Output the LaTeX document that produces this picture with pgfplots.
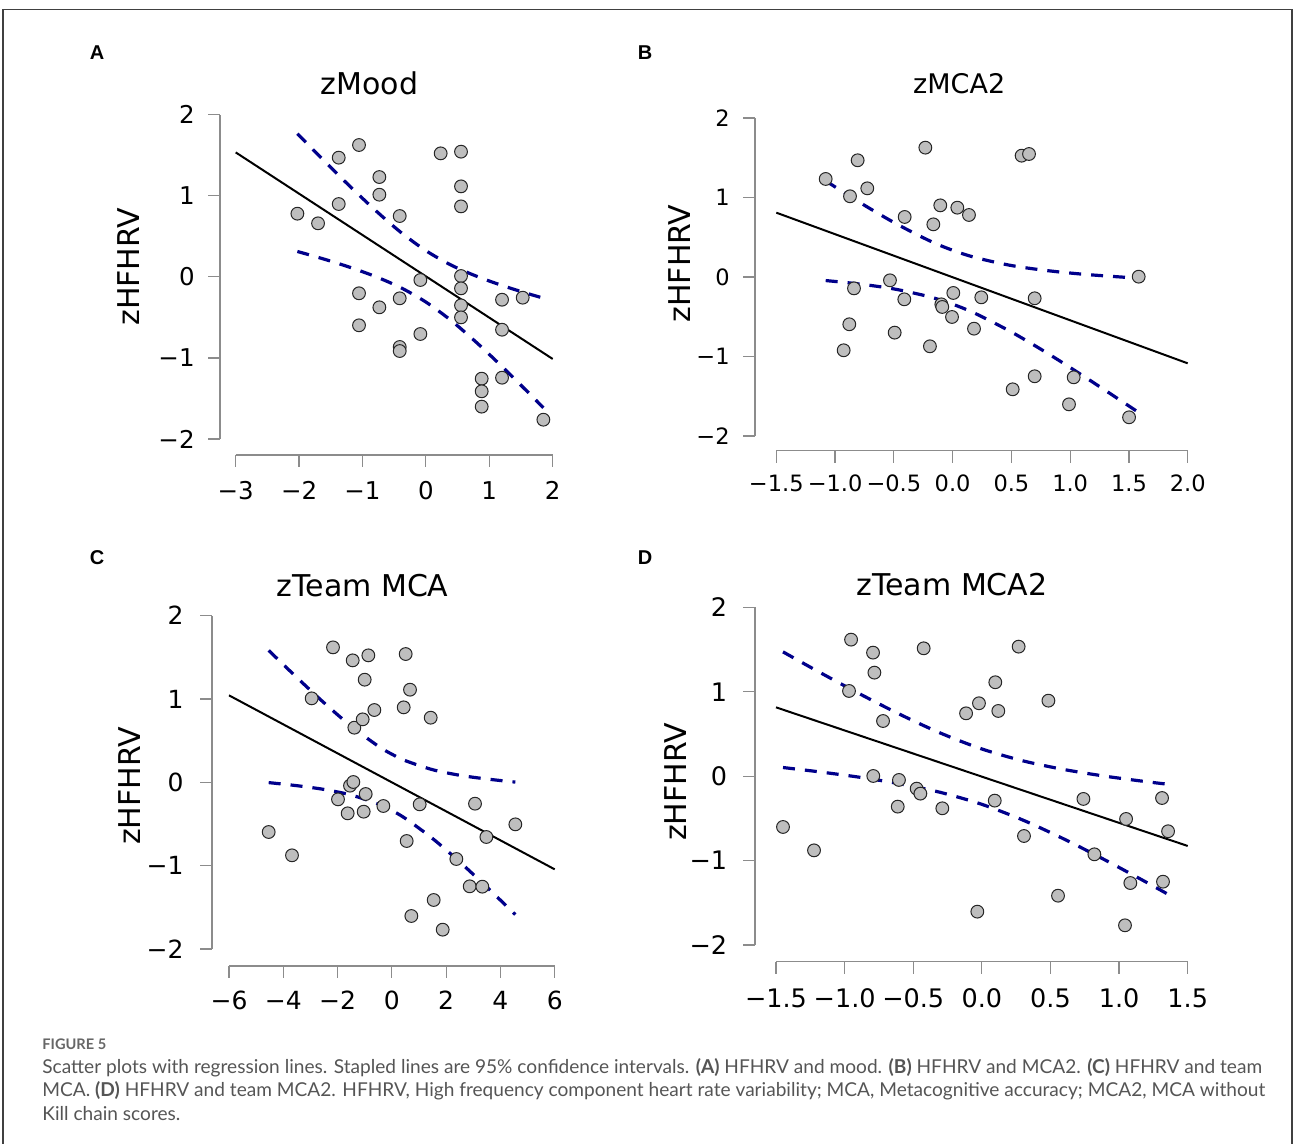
\documentclass[border=0pt]{standalone}
\usepackage{fontspec}
\setmainfont{DejaVu Sans}
\newfontfamily\capfont{Lato}
\newfontfamily\labfont{Liberation Sans}
\usepackage{pgfplots}
\pgfplotsset{compat=1.18}
\definecolor{ptgray}{HTML}{BEBEBE}
\definecolor{cidark}{HTML}{00008B}
\definecolor{axgray}{HTML}{8C8C8C}
\definecolor{capgray}{HTML}{555555}
\pgfplotsset{
  panel/.style={
    scale only axis, anchor=south west,
    axis lines*=left,
    axis line style={axgray, line width=0.6pt},
    tick align=outside,
    major tick length=6pt,
    tick style={axgray, line width=0.6pt},
    ymin=-2, ymax=2, ytick={-2,-1,0,1,2},
    yticklabels={−2,−1,0,1,2},
    clip=false,
    every axis title shift=0pt,
    ylabel={zHFHRV},
    ylabel style={anchor=center, font=\fontsize{15}{18}\selectfont},
    xticklabel style={anchor=base, inner sep=0pt},
    yticklabel style={anchor=east, inner sep=0pt},
  },
  pts/.style={only marks, mark=*, mark size=3.2pt, mark options={fill=ptgray, draw=black!85, line width=0.5pt}},
  reg/.style={black, line width=1pt, no marks},
  ci/.style={cidark, line width=1.6pt, dash pattern=on 6pt off 5pt, no marks, smooth},
}
\begin{document}
\begin{tikzpicture}
\useasboundingbox (0,0) rectangle (647.5pt,572pt);
% frame
\draw[black!75, line width=0.6pt] (1.5pt,0pt) -- (1.5pt,567.25pt) -- (646pt,567.25pt) -- (646pt,0pt);
% panel letters
\node[font=\labfont\bfseries\fontsize{10}{12}\selectfont] at (48.5pt,545.5pt) {A};
\node[font=\labfont\bfseries\fontsize{10}{12}\selectfont] at (322.5pt,545.5pt) {B};
\node[font=\labfont\bfseries\fontsize{10}{12}\selectfont] at (48.5pt,293pt) {C};
\node[font=\labfont\bfseries\fontsize{10}{12}\selectfont] at (322.5pt,293pt) {D};

% ---------------- Panel A
\begin{axis}[panel, at={(117.85pt,352.5pt)}, width=158.5pt, height=162.15pt,
  xmin=-3, xmax=2, xtick={-3,-2,-1,0,1,2}, xticklabels={−3,−2,−1,0,1,2},
  axis x line shift=8pt, axis y line shift=7.85pt,
  ticklabel style={font=\fontsize{12.25}{14}\selectfont},
  xticklabel style={yshift=-16.15pt}, yticklabel style={xshift=-6.5pt},
  title={zMood}, title style={at={(axis description cs:0.422,1.061)}, anchor=base, font=\fontsize{15}{18}\selectfont},
  ylabel style={at={(axis description cs:-0.337,0.531)}},
]
\addplot[pts] coordinates {
(-2.027,0.779) (-1.701,0.660) (-1.375,1.470) (-1.375,0.898) (-1.055,1.626) (-1.055,-0.203)
(-1.055,-0.598) (-0.734,1.231) (-0.734,1.013) (-0.734,-0.376) (-0.413,0.750) (-0.413,-0.265)
(-0.413,-0.865) (-0.413,-0.915) (-0.087,-0.039) (-0.087,-0.705) (0.233,1.523) (0.554,1.544)
(0.554,1.116) (0.554,0.869) (0.554,0.010) (0.554,-0.142) (0.554,-0.352) (0.554,-0.500)
(0.880,-1.256) (0.880,-1.412) (0.880,-1.601) (1.201,-0.282) (1.201,-0.652) (1.201,-1.244)
(1.527,-0.257) (1.853,-1.762)};
\addplot[reg] coordinates {(-3,1.535) (2,-1.013)};
\addplot[ci] coordinates {(-2.027,1.765) (-1.6,1.427) (-1.2,1.118) (-0.8,0.823) (-0.4,0.552) (0,0.323) (0.4,0.144) (0.8,0.007) (1.2,-0.106) (1.6,-0.205) (1.853,-0.262)};
\addplot[ci] coordinates {(-2.027,0.313) (-1.6,0.217) (-1.2,0.118) (-0.8,0.005) (-0.4,-0.132) (0,-0.311) (0.4,-0.540) (0.8,-0.811) (1.2,-1.106) (1.6,-1.415) (1.853,-1.614)};
\end{axis}

% ---------------- Panel B
\begin{axis}[panel, at={(388.15pt,354pt)}, width=205.7pt, height=159pt,
  xmin=-1.5, xmax=2, xtick={-1.5,-1,-0.5,0,0.5,1,1.5,2}, xticklabels={−1.5,−1.0,−0.5,0.0,0.5,1.0,1.5,2.0},
  axis x line shift=7.35pt, axis y line shift=10.65pt,
  ticklabel style={font=\fontsize{11.25}{13}\selectfont},
  xticklabel style={yshift=-14.5pt}, yticklabel style={xshift=-6.5pt},
  title={zMCA2}, title style={at={(axis description cs:0.4446,1.0777)}, anchor=base, font=\fontsize{13.5}{16}\selectfont},
  ylabel style={at={(axis description cs:-0.234,0.542)}},
]
\addplot[pts] coordinates {
(-1.080,1.233) (-0.808,1.468) (-0.873,1.015) (-0.726,1.115) (-0.839,-0.143) (-0.879,-0.595)
(-0.927,-0.922) (-0.533,-0.042) (-0.408,0.755) (-0.411,-0.281) (-0.493,-0.700) (-0.232,1.627)
(-0.164,0.662) (-0.193,-0.872) (-0.105,0.901) (-0.096,-0.344) (-0.088,-0.377) (0.006,-0.201)
(-0.005,-0.503) (0.040,0.872) (0.139,0.780) (0.182,-0.650) (0.244,-0.256) (0.511,-1.413)
(0.587,1.526) (0.650,1.547) (0.698,-0.268) (0.698,-1.249) (1.030,-1.262) (0.990,-1.602)
(1.501,-1.765) (1.583,0.004)};
\addplot[reg] coordinates {(-1.5,0.809) (2.0,-1.086)};
\addplot[ci] coordinates {(-1.080,1.209) (-0.8,0.947) (-0.5,0.686) (-0.2,0.458) (0,0.336) (0.2,0.242) (0.5,0.144) (0.8,0.081) (1.1,0.036) (1.4,0.003) (1.583,-0.015)};
\addplot[ci] coordinates {(-1.080,-0.045) (-0.8,-0.087) (-0.5,-0.150) (-0.2,-0.248) (0,-0.342) (0.2,-0.464) (0.5,-0.692) (0.8,-0.953) (1.1,-1.234) (1.4,-1.525) (1.583,-1.705)};
\end{axis}

% ---------------- Panel C
\begin{axis}[panel, at={(114.5pt,97.5pt)}, width=162.85pt, height=166.65pt,
  xmin=-6, xmax=6, xtick={-6,-4,-2,0,2,4,6}, xticklabels={−6,−4,−2,0,2,4,6},
  axis x line shift=8.5pt, axis y line shift=8.5pt,
  ticklabel style={font=\fontsize{12.5}{14}\selectfont},
  xticklabel style={yshift=-16pt}, yticklabel style={xshift=-8pt},
  title={zTeam MCA}, title style={at={(axis description cs:0.410,1.057)}, anchor=base, font=\fontsize{15}{18}\selectfont},
  ylabel style={at={(axis description cs:-0.304,0.489)}},
]
\addplot[pts] coordinates {
(-4.538,-0.596) (-3.679,-0.876) (-2.954,1.008) (-2.168,1.620) (-1.984,-0.204) (-1.628,-0.372)
(-1.542,-0.040) (-1.419,0.004) (-1.443,1.464) (-1.382,0.656) (-1.075,0.756) (-1.038,-0.352)
(-0.964,-0.140) (-1.001,1.232) (-0.866,1.524) (-0.645,0.868) (-0.313,-0.284) (0.436,0.900)
(0.509,1.540) (0.546,-0.704) (0.669,1.112) (0.718,-1.604) (1.025,-0.264) (1.431,0.776)
(1.541,-1.412) (1.873,-1.768) (2.376,-0.920) (2.868,-1.248) (3.064,-0.256) (3.334,-1.252)
(3.482,-0.656) (4.550,-0.504)};
\addplot[reg] coordinates {(-6,1.044) (6,-1.044)};
\addplot[ci] coordinates {(-4.538,1.583) (-3.5,1.258) (-2.5,0.955) (-1.5,0.674) (-0.5,0.434) (0,0.338) (0.5,0.260) (1.5,0.152) (2.5,0.085) (3.5,0.040) (4.550,0.003)};
\addplot[ci] coordinates {(-4.538,-0.003) (-3.5,-0.040) (-2.5,-0.085) (-1.5,-0.152) (-0.5,-0.260) (0,-0.338) (0.5,-0.434) (1.5,-0.674) (2.5,-0.955) (3.5,-1.258) (4.550,-1.587)};
\end{axis}

% ---------------- Panel D
\begin{axis}[panel, at={(388pt,99.5pt)}, width=205.85pt, height=168.85pt,
  xmin=-1.5, xmax=1.5, xtick={-1.5,-1,-0.5,0,0.5,1,1.5}, xticklabels={−1.5,−1.0,−0.5,0.0,0.5,1.0,1.5},
  axis x line shift=8.35pt, axis y line shift=10.5pt,
  ticklabel style={font=\fontsize{12.75}{15}\selectfont},
  xticklabel style={yshift=-16.8pt}, yticklabel style={xshift=-7.75pt},
  title={zTeam MCA2}, title style={at={(axis description cs:0.4275,1.036)}, anchor=base, font=\fontsize{15}{18}\selectfont},
  ylabel style={at={(axis description cs:-0.243,0.483)}},
]
\addplot[pts] coordinates {
(-1.449,-0.602) (-1.223,-0.879) (-0.953,1.617) (-0.968,1.009) (-0.793,1.463) (-0.783,1.226)
(-0.791,0.002) (-0.720,0.653) (-0.604,-0.045) (-0.613,-0.361) (-0.475,-0.148) (-0.448,-0.207)
(-0.424,1.514) (-0.288,-0.381) (-0.115,0.744) (-0.021,0.863) (-0.033,-1.605) (0.094,-0.290)
(0.098,1.112) (0.120,0.772) (0.268,1.534) (0.307,-0.709) (0.485,0.894) (0.555,-1.416)
(0.740,-0.270) (0.820,-0.926) (1.051,-0.507) (1.043,-1.767) (1.082,-1.266) (1.313,-0.259)
(1.320,-1.250) (1.357,-0.653)};
\addplot[reg] coordinates {(-1.5,0.815) (1.5,-0.827)};
\addplot[ci] coordinates {(-1.449,1.472) (-1.2,1.246) (-0.9,0.983) (-0.6,0.734) (-0.3,0.509) (0,0.322) (0.3,0.181) (0.6,0.078) (0.9,-0.001) (1.2,-0.066) (1.357,-0.096)};
\addplot[ci] coordinates {(-1.449,0.102) (-1.2,0.054) (-0.9,-0.011) (-0.6,-0.090) (-0.3,-0.193) (0,-0.334) (0.3,-0.521) (0.6,-0.746) (0.9,-0.995) (1.2,-1.258) (1.357,-1.400)};
\end{axis}

% caption
\node[anchor=base west, inner sep=0pt, font=\capfont\bfseries\fontsize{7.3}{8}\selectfont, text=black!60] at (21pt,47pt) {FIGURE 5};
\node[anchor=base west, inner sep=0pt, font=\capfont\fontsize{9.55}{11}\selectfont, text=capgray] at (21pt,35pt) {Scatter plots with regression lines. Stapled lines are 95\% confidence intervals. \textbf{(A)} HFHRV and mood. \textbf{(B)} HFHRV and MCA2. \textbf{(C)} HFHRV and team};
\node[anchor=base west, inner sep=0pt, font=\capfont\fontsize{9.55}{11}\selectfont, text=capgray] at (21pt,23.5pt) {MCA. \textbf{(D)} HFHRV and team MCA2. HFHRV, High frequency component heart rate variability; MCA, Metacognitive accuracy; MCA2, MCA without};
\node[anchor=base west, inner sep=0pt, font=\capfont\fontsize{9.55}{11}\selectfont, text=capgray] at (21pt,11.5pt) {Kill chain scores.};
\end{tikzpicture}
\end{document}
